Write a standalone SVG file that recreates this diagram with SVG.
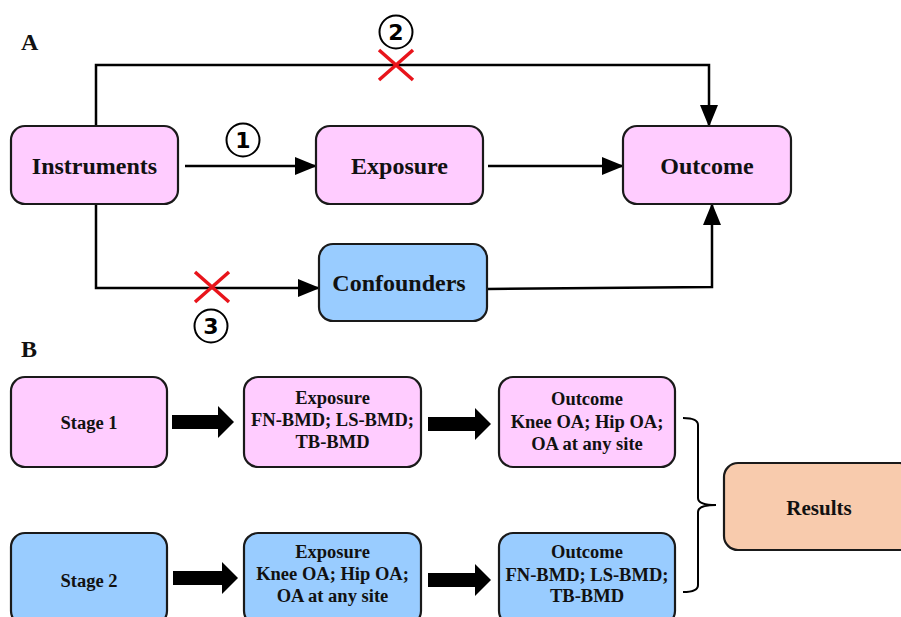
<svg xmlns="http://www.w3.org/2000/svg" width="901" height="617" viewBox="0 0 901 617">
<defs>
<marker id="ah" markerUnits="userSpaceOnUse" markerWidth="22" markerHeight="18" refX="21" refY="9" orient="auto">
<path d="M0,0 L22,9 L0,18 Z" fill="#000"/>
</marker>
<style>
.box{stroke:#1a1a1a;stroke-width:2.2}
.pink{fill:#FFCCFF}
.blue{fill:#99CCFF}
.orange{fill:#F8CBAD}
.t{font-family:'Liberation Serif',serif;font-weight:bold;fill:#111;text-anchor:middle}
.ta{font-size:24px}
.tb{font-size:18.5px}
.lbl{font-family:'Liberation Serif',serif;font-weight:bold;font-size:24px;fill:#111}
.line{fill:none;stroke:#000;stroke-width:2.5}
.cross{stroke:#E8141B;stroke-width:3.5;fill:none}
.num{fill:none;stroke:#000;stroke-width:2}
.nt{font-family:'DejaVu Sans',sans-serif;font-weight:bold;font-size:22px;text-anchor:middle;fill:#000}
.blk{fill:#000}
</style>
</defs>
<rect width="901" height="617" fill="#fff"/>

<text class="lbl" x="21" y="50">A</text>
<text class="lbl" x="21" y="357">B</text>

<g id="connectors">
<path class="line" d="M96,126 V65 H709 V126" marker-end="url(#ah)"/>
<path class="line" d="M185,166 H316" marker-end="url(#ah)"/>
<path class="line" d="M488,166 H623" marker-end="url(#ah)"/>
<path class="line" d="M96,204 V288 H319" marker-end="url(#ah)"/>
<path class="line" d="M487,289 L712,287 V204" marker-end="url(#ah)"/>
<path class="cross" d="M379,50 L413,80 M413,50 L379,80"/>
<path class="cross" d="M195,272 L229,302 M229,272 L195,302"/>
<g id="mark1"><circle class="num" cx="243" cy="140" r="16.5"/><text class="nt" x="243" y="148">1</text></g>
<g id="mark2"><circle class="num" cx="396" cy="32" r="16.5"/><text class="nt" x="396" y="40">2</text></g>
<g id="mark3"><circle class="num" cx="211" cy="326" r="16.5"/><text class="nt" x="211" y="334">3</text></g>
<path class="blk" d="M172,415 H218 V406 L234,422 L218,438 V429 H172 Z"/>
<path class="blk" d="M428,417 H475 V408 L491,424 L475,440 V431 H428 Z"/>
<path class="blk" d="M173,571 H222 V562 L238,578 L222,594 V585 H173 Z"/>
<path class="blk" d="M428,573 H475 V564 L491,580 L475,596 V587 H428 Z"/>
<path class="line" style="stroke-width:2" d="M683,418 Q698,418 698,425 V498 Q698,505 716,505 Q698,505 698,512 V585 Q698,592 683,592"/>
</g>

<g id="instruments"><rect class="box pink" x="11" y="126" width="167" height="78" rx="14"/><text class="t ta" x="94.5" y="174">Instruments</text></g>
<g id="exposure"><rect class="box pink" x="316" y="126" width="167" height="78" rx="14"/><text class="t ta" x="399.5" y="174">Exposure</text></g>
<g id="outcome"><rect class="box pink" x="623" y="126" width="168" height="78" rx="14"/><text class="t ta" x="707" y="174">Outcome</text></g>
<g id="confounders"><rect class="box blue" x="319" y="244" width="168" height="77" rx="14"/><text class="t ta" x="399" y="291">Confounders</text></g>

<g id="stage1"><rect class="box pink" x="11" y="377" width="156" height="90" rx="14"/><text class="t tb" x="89" y="429">Stage 1</text></g>
<g id="exposure1"><rect class="box pink" x="244" y="377" width="177" height="90" rx="14"/>
<text class="t tb" x="332.5" y="404">Exposure</text><text class="t tb" x="332.5" y="426">FN-BMD; LS-BMD;</text><text class="t tb" x="332.5" y="448">TB-BMD</text></g>
<g id="outcome1"><rect class="box pink" x="499" y="377" width="176" height="90" rx="14"/>
<text class="t tb" x="587" y="405">Outcome</text><text class="t tb" x="587" y="428">Knee OA; Hip OA;</text><text class="t tb" x="587" y="450">OA at any site</text></g>

<g id="stage2"><rect class="box blue" x="11" y="533" width="156" height="92" rx="14"/><text class="t tb" x="89" y="587">Stage 2</text></g>
<g id="exposure2"><rect class="box blue" x="244" y="533" width="177" height="92" rx="14"/>
<text class="t tb" x="332.5" y="558">Exposure</text><text class="t tb" x="332.5" y="580">Knee OA; Hip OA;</text><text class="t tb" x="332.5" y="602">OA at any site</text></g>
<g id="outcome2"><rect class="box blue" x="499" y="533" width="176" height="92" rx="14"/>
<text class="t tb" x="587" y="558">Outcome</text><text class="t tb" x="587" y="581">FN-BMD; LS-BMD;</text><text class="t tb" x="587" y="602">TB-BMD</text></g>

<g id="results"><rect class="box orange" x="724" y="463" width="190" height="87" rx="14"/><text class="t" style="font-size:21px" x="819" y="515">Results</text></g>
</svg>
